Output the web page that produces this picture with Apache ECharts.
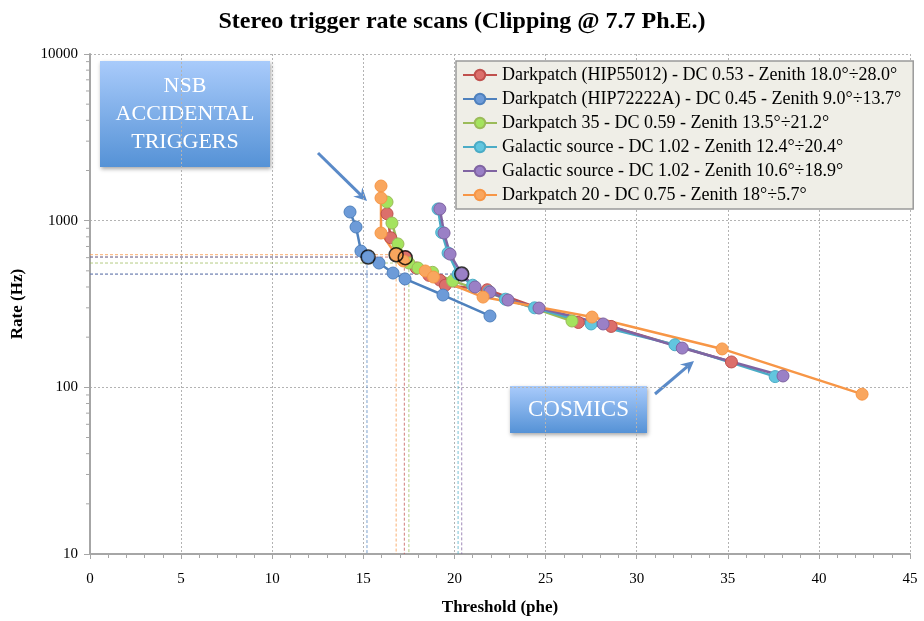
<!DOCTYPE html>
<html>
<head>
<meta charset="utf-8">
<script src="https://cdn.jsdelivr.net/npm/echarts@6/dist/echarts.min.js"></script>
<style>html,body{margin:0;padding:0;background:#fff}#c{width:924px;height:621px}</style>
</head>
<body>
<div id="c"></div>
<script>
// ---- data ----
const seriesNames = [
  'Darkpatch (HIP55012) - DC 0.53 - Zenith 18.0°÷28.0°',
  'Darkpatch (HIP72222A) - DC 0.45 - Zenith 9.0°÷13.7°',
  'Darkpatch 35 - DC 0.59 - Zenith 13.5°÷21.2°',
  'Galactic source - DC 1.02 - Zenith 12.4°÷20.4°',
  'Galactic source - DC 1.02 - Zenith 10.6°÷18.9°',
  'Darkpatch 20 - DC 0.75 - Zenith 18°÷5.7°'
];
const xRed = [16.3, 16.5, 17.3, 17.9, 18.6, 19.2, 19.5, 21.8, 26.8, 28.6, 35.2];
const yRed = [1100, 790, 605, 520, 470, 440, 410, 385, 245, 232, 142];
const xBlue = [14.27, 14.6, 14.87, 15.26, 15.86, 16.63, 17.29, 19.37, 21.95];
const yBlue = [1127, 916, 657, 605, 557, 485, 447, 358, 268];
const xGreen = [16.3, 16.57, 16.9, 17.5, 18.0, 18.8, 19.9, 26.45];
const yGreen = [1294, 968, 725, 557, 520, 490, 435, 250];
const xCyan = [19.1, 19.3, 19.65, 20.2, 21.0, 21.9, 22.8, 24.4, 27.5, 32.1, 37.6];
const yCyan = [1175, 850, 640, 478, 410, 375, 338, 300, 240, 180, 116];
const xPurple = [19.2, 19.43, 19.76, 20.4, 21.13, 21.95, 22.94, 24.64, 28.16, 32.5, 38.03];
const yPurple = [1175, 843, 630, 478, 400, 373, 334, 299, 240, 172, 117];
const xOrange = [15.97, 15.97, 15.97, 16.8, 17.2, 18.4, 18.85, 21.57, 27.55, 34.69, 42.37];
const yOrange = [1614, 1368, 843, 625, 573, 499, 459, 348, 264, 170, 91];
// operating thresholds (x, rate) per series, in legend order
const thrX = [17.25, 15.2, 17.5, 20.2, 20.4, 16.8];
const thrY = [605, 605, 557, 478, 478, 625];
// circled points
const ringX = [15.26, 16.8, 17.3, 20.4];
const ringY = [605, 625, 600, 478];
const xTicks = [0, 5, 10, 15, 20, 25, 30, 35, 40, 45];
const yTicks = [10, 100, 1000, 10000];
const yMinor = [20,30,40,50,60,70,80,90,200,300,400,500,600,700,800,900,2000,3000,4000,5000,6000,7000,8000,9000];

// ---- styles ----
const lineColors = ['#c0504d', '#4f81bd', '#9bbb59', '#4bacc6', '#8064a2', '#f79646'];
const fillColors = ['#dc6f6b', '#6d9bd8', '#a4e35e', '#62c6df', '#9a80c6', '#f9a65e'];
const xs = [xRed, xBlue, xGreen, xCyan, xPurple, xOrange];
const ys = [yRed, yBlue, yGreen, yCyan, yPurple, yOrange];
const SERIF = '"Liberation Serif", "Times New Roman", serif';

const series = [];
for (let i = 0; i < 6; i++) {
  series.push({
    type: 'line', silent: true, symbol: 'none', z: 1,
    data: [[0, thrY[i]], [thrX[i], thrY[i]], [thrX[i], 10]],
    lineStyle: {color: lineColors[i], width: 1, type: [3, 2], opacity: 0.75}
  });
}
for (let i = 0; i < 6; i++) {
  series.push({
    name: seriesNames[i], type: 'line', z: 3,
    data: xs[i].map((x, k) => [x, ys[i][k]]),
    symbol: 'circle', symbolSize: 12,
    lineStyle: {color: lineColors[i], width: 2.5},
    itemStyle: {color: fillColors[i], borderColor: lineColors[i], borderWidth: 1}
  });
}
series.push({
  type: 'scatter', silent: true, z: 5,
  data: ringX.map((x, k) => [x, ringY[k]]),
  symbol: 'circle', symbolSize: 14,
  itemStyle: {color: 'rgba(0,0,0,0)', borderColor: '#000', borderWidth: 1.5}
});
series.push({
  type: 'custom', silent: true, clip: false, z: 2,
  data: yMinor.map(v => [0, v]),
  renderItem: function (params, api) {
    const p = api.coord([0, api.value(1)]);
    return {type: 'line', shape: {x1: p[0] - 4, y1: p[1], x2: p[0], y2: p[1]},
      style: {stroke: '#a6a6a6', lineWidth: 1}};
  }
});

function arrow(x1, y1, x2, y2, color) {
  const dx = x2 - x1, dy = y2 - y1, L = Math.sqrt(dx * dx + dy * dy);
  const ux = dx / L, uy = dy / L, nx = -uy, ny = ux;
  const hl = 13, hw = 6.5;
  const bx = x2 - ux * hl, by = y2 - uy * hl;
  const mx = x2 - ux * hl * 0.65, my = y2 - uy * hl * 0.65;
  return [
    {type: 'line', shape: {x1: x1, y1: y1, x2: mx, y2: my}, style: {stroke: color, lineWidth: 3}},
    {type: 'polygon', shape: {points: [[x2, y2], [bx + nx * hw, by + ny * hw], [mx, my], [bx - nx * hw, by - ny * hw]]},
      style: {fill: color}}
  ];
}
function box(x, y, w, h, text, size, lh) {
  return [
    {type: 'rect', shape: {x: x, y: y, width: w, height: h},
      style: {fill: {type: 'linear', x: 0, y: 0, x2: 0, y2: 1,
        colorStops: [{offset: 0, color: '#a9cbfb'}, {offset: 1, color: '#5592d6'}]},
        shadowBlur: 4, shadowColor: 'rgba(0,0,0,0.35)', shadowOffsetX: 1, shadowOffsetY: 2}},
    {type: 'text', style: {text: text, x: x + w / 2, y: y + h / 2, align: 'center', verticalAlign: 'middle',
      fill: '#ffffff', fontFamily: SERIF, fontSize: size, lineHeight: lh}}
  ];
}
const arrowColor = '#5a8ac8';
const graphics = [].concat(
  box(100, 61, 170, 106, 'NSB\nACCIDENTAL\nTRIGGERS', 22, 28),
  box(510, 386, 137, 47, 'COSMICS', 23, 26),
  arrow(318, 153, 367, 201, arrowColor),
  arrow(655, 394, 694, 361, arrowColor)
);

const chart = echarts.init(document.getElementById('c'));
chart.setOption({
  animation: false,
  backgroundColor: '#fff',
  title: {text: 'Stereo trigger rate scans (Clipping @ 7.7 Ph.E.)', left: 'center', top: 5,
    textStyle: {fontFamily: SERIF, fontSize: 24, fontWeight: 'bold', color: '#000'}},
  grid: {left: 90, right: 14, top: 54, bottom: 67},
  legend: {
    data: seriesNames, orient: 'vertical', left: 456, top: 61,
    backgroundColor: '#efeee7', borderColor: '#9a9a9a', borderWidth: 1.5,
    padding: [5, 12, 5, 6], itemGap: 6, itemWidth: 34, itemHeight: 13,
    textStyle: {fontFamily: SERIF, fontSize: 18, color: '#000'}
  },
  xAxis: {
    type: 'value', min: 0, max: 45, interval: 5,
    name: 'Threshold (phe)', nameLocation: 'middle', nameGap: 45,
    nameTextStyle: {fontFamily: SERIF, fontSize: 17, fontWeight: 'bold', color: '#000'},
    axisLine: {show: true, lineStyle: {color: '#a6a6a6', width: 2}},
    axisTick: {show: true, length: 5, lineStyle: {color: '#a6a6a6'}},
    minorTick: {show: true, splitNumber: 5, length: 4, lineStyle: {color: '#a6a6a6'}},
    axisLabel: {fontFamily: SERIF, fontSize: 15, color: '#000', margin: 18,
      formatter: v => xTicks.indexOf(v) >= 0 ? String(v) : ''},
    splitLine: {show: true, lineStyle: {color: '#b3b3b3', type: [2, 2], width: 1}}
  },
  yAxis: {
    type: 'log', logBase: 10, min: 10, max: 10000,
    name: 'Rate (Hz)', nameLocation: 'middle', nameGap: 64, nameRotate: 90,
    nameTextStyle: {fontFamily: SERIF, fontSize: 17, fontWeight: 'bold', color: '#000'},
    axisLine: {show: true, lineStyle: {color: '#a6a6a6', width: 2}},
    axisTick: {show: true, length: 6, lineStyle: {color: '#a6a6a6'}},
    axisLabel: {fontFamily: SERIF, fontSize: 15, color: '#000', margin: 12,
      formatter: v => yTicks.indexOf(Math.round(v)) >= 0 ? String(Math.round(v)) : ''},
    splitLine: {show: true, lineStyle: {color: '#b3b3b3', type: [2, 2], width: 1}}
  },
  graphic: graphics,
  series: series
});
</script>
</body>
</html>
